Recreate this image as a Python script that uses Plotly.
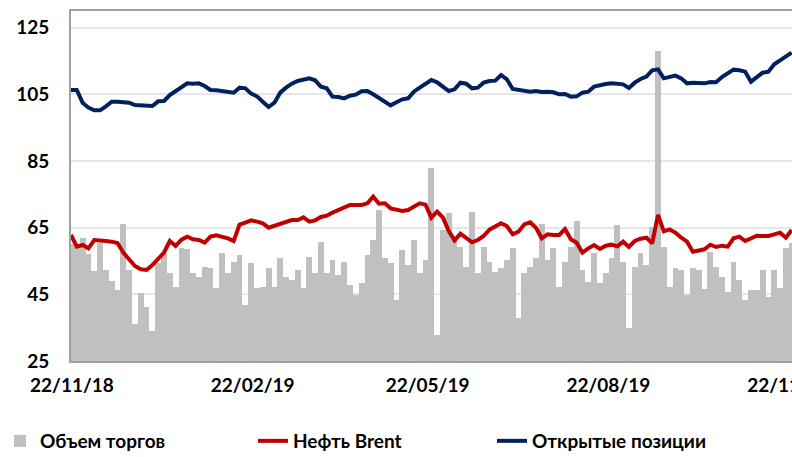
import pandas as pd
import plotly.graph_objects as go

start_date = "2018-11-21 12:00"
step = "71h"

volume = [60.0, 59.5, 62.0, 57.0, 52.0, 60.3, 52.3, 49.0, 46.3, 66.0,
          52.3, 36.0, 45.3, 41.3, 34.0, 54.3, 57.3, 51.3, 47.3, 58.8,
          58.5, 51.3, 50.3, 53.3, 52.8, 46.8, 57.3, 51.3, 54.8, 56.8,
          41.8, 54.3, 46.8, 47.3, 52.8, 47.3, 55.8, 50.3, 49.3, 52.3,
          46.8, 56.3, 51.3, 60.8, 51.3, 55.3, 50.8, 54.8, 47.8, 44.8,
          48.3, 56.8, 61.3, 70.3, 55.8, 54.3, 43.3, 58.3, 53.8, 61.3,
          51.3, 55.3, 82.8, 32.8, 64.3, 69.3, 61.3, 59.3, 53.3, 69.8,
          51.3, 59.3, 54.8, 51.8, 52.8, 55.3, 58.8, 38.0, 51.3, 53.3,
          55.8, 66.0, 55.3, 58.8, 47.3, 54.8, 59.3, 67.0, 52.3, 48.8,
          57.3, 48.3, 51.3, 55.8, 65.8, 54.8, 34.8, 53.3, 57.3, 53.8,
          65.3, 118.0, 59.3, 47.3, 52.8, 52.3, 44.8, 53.0, 52.3, 46.5,
          57.8, 53.3, 50.3, 45.8, 54.8, 49.3, 43.3, 46.3, 46.3, 52.3,
          44.3, 52.3, 46.8, 58.8, 60.3]

brent = [62.8, 59.3, 59.8, 58.8, 61.3, 61.3, 61.0, 60.8, 60.4, 57.5,
         55.5, 53.5, 52.5, 52.3, 53.8, 55.8, 57.5, 61.0, 59.5, 61.4,
         62.3, 61.5, 61.3, 60.5, 62.3, 62.7, 62.3, 61.8, 61.0, 65.9,
         66.5, 67.2, 66.8, 66.3, 65.0, 65.5, 66.1, 66.7, 67.3, 67.3,
         68.1, 66.8, 67.2, 68.2, 68.6, 69.5, 70.3, 71.1, 71.8, 71.8,
         71.8, 72.3, 74.3, 72.2, 72.3, 70.8, 70.5, 70.0, 70.3, 71.2,
         72.3, 71.9, 68.0, 69.8, 68.0, 64.0, 61.2, 63.2, 62.0, 60.6,
         61.3, 62.5, 64.4, 65.5, 66.3, 65.5, 63.0, 63.8, 66.0, 66.6,
         65.0, 61.8, 63.0, 62.8, 62.8, 64.6, 61.5, 60.5, 57.5, 58.8,
         59.8, 58.6, 59.6, 59.9, 59.4, 60.8, 59.2, 61.0, 61.7, 62.0,
         60.3, 68.8, 63.9, 64.5, 63.5, 62.0, 60.8, 57.8, 58.3, 58.5,
         59.9, 59.2, 59.6, 59.3, 61.8, 62.3, 61.0, 61.9, 62.6, 62.5,
         62.5, 63.0, 63.5, 62.0, 64.3]

open_interest = [106.3, 106.3, 102.5, 101.0, 100.2, 100.2, 101.4, 102.8, 102.8, 102.8,
                 102.5, 101.8, 101.8, 101.8, 101.5, 102.9, 103.0, 104.8, 105.9, 107.2,
                 108.3, 108.2, 108.3, 107.5, 106.3, 106.2, 106.0, 105.8, 105.5, 107.0,
                 106.8, 105.2, 104.4, 102.8, 101.2, 102.5, 105.5, 107.0, 108.2, 109.0,
                 109.4, 109.8, 109.2, 107.3, 106.8, 104.3, 104.2, 103.8, 104.6, 104.9,
                 105.9, 106.0, 105.0, 103.9, 103.0, 101.7, 102.6, 103.5, 103.8, 105.8,
                 107.0, 108.3, 109.3, 108.6, 107.2, 106.0, 106.5, 108.5, 108.2, 106.8,
                 107.0, 108.5, 109.0, 109.1, 110.8, 109.5, 106.6, 106.3, 106.2, 105.8,
                 106.0, 105.7, 105.8, 105.6, 105.0, 105.1, 104.3, 104.4, 105.5, 105.8,
                 107.3, 107.8, 108.1, 108.3, 108.3, 108.0, 106.9, 108.5, 109.6, 110.3,
                 112.2, 112.5, 109.8, 110.2, 110.6, 109.8, 108.3, 108.5, 108.5, 108.3,
                 108.7, 108.6, 110.2, 111.2, 112.4, 112.2, 111.8, 108.8, 110.2, 111.5,
                 111.8, 114.0, 115.2, 116.3, 117.5]

tick_dates = ["2018-11-22", "2019-02-22", "2019-05-22", "2019-08-22", "2019-11-22"]
tick_labels = ["22/11/18", "22/02/19", "22/05/19", "22/08/19", "22/11/19"]
y_ticks = [25, 45, 65, 85, 105, 125]

names = ["Объем торгов", "Нефть Brent", "Открытые позиции"]

dates = pd.date_range(start_date, periods=len(volume), freq=step)

FONT = "Lato, 'Open Sans', Arial, sans-serif"
BOLD = dict(family=FONT, size=19, color="#000000", weight="bold")

fig = go.Figure()
fig.add_trace(go.Bar(x=dates, y=volume, name=names[0], marker=dict(color="#C0C0C0", line=dict(width=0)),
                     legend="legend"))
fig.add_trace(go.Scatter(x=dates, y=brent, name=names[1], mode="lines",
                         line=dict(color="#C00000", width=4), legend="legend2"))
fig.add_trace(go.Scatter(x=dates, y=open_interest, name=names[2], mode="lines",
                         line=dict(color="#002060", width=4), legend="legend3"))

leg_common = dict(orientation="h", xref="container", yref="container", yanchor="middle",
                  y=1 - 441 / 457, xanchor="left", bgcolor="rgba(0,0,0,0)",
                  font=dict(family=FONT, size=19, color="#000000", weight="bold"))

fig.update_layout(
    width=792, height=457,
    margin=dict(l=71, r=0, t=11, b=96, autoexpand=False),
    paper_bgcolor="white", plot_bgcolor="white",
    bargap=0,
    font=dict(family=FONT, size=17, color="#000000"),
    showlegend=True,
    legend=dict(leg_common, x=-35 / 792),
    legend2=dict(leg_common, x=253 / 792),
    legend3=dict(leg_common, x=492 / 792),
    xaxis=dict(type="date", range=["2018-11-21 12:00", "2019-11-23 12:00"],
               tickvals=tick_dates, ticktext=tick_labels,
               showgrid=False, showline=True, mirror=True, linecolor="#A0A0A0", linewidth=2,
               ticks="", ticklabelstandoff=6, automargin=False, ticklabeloverflow="allow",
               tickfont=BOLD),
    yaxis=dict(range=[25, 130], tickvals=y_ticks, showgrid=True, gridcolor="#E6E6E6", gridwidth=1.5,
               showline=True, linecolor="#A0A0A0", linewidth=2, zeroline=False,
               ticks="", ticklabelstandoff=16, automargin=False,
               tickfont=BOLD),
)

fig.write_html("out.html", config={"displayModeBar": False},
               post_script="document.body.style.margin='0';document.body.style.overflow='hidden';")
